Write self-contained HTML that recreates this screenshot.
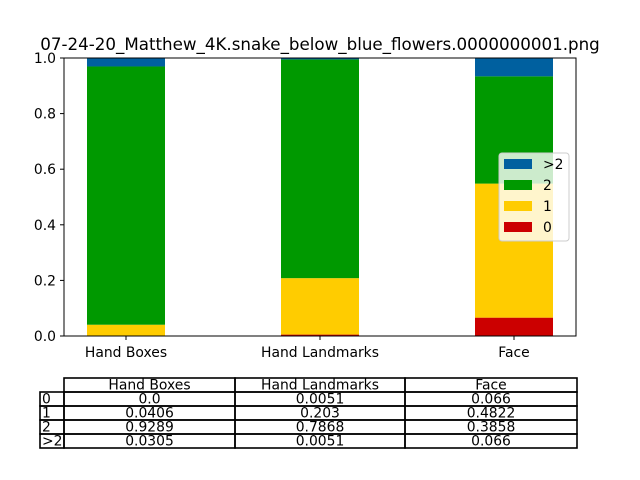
<!DOCTYPE html>
<html><head><meta charset="utf-8"><style>
body{margin:0;background:#fff;}
svg{display:block;font-family:"DejaVu Sans","Liberation Sans",sans-serif;}
</style></head><body>
<svg id="chart" width="640" height="480" xmlns="http://www.w3.org/2000/svg">
<text x="320" y="50" text-anchor="middle" font-size="16.7">07-24-20_Matthew_4K.snake_below_blue_flowers.0000000001.png</text>
<g id="bars"></g>
<rect x="64" y="58" width="512" height="278" fill="none" stroke="#000" stroke-width="1"/>
<g id="axes"></g>
<g id="legend"></g>
<g id="table"></g>
</svg>
<script>
const categories = ["Hand Boxes","Hand Landmarks","Face"];
const seriesNames = ["0","1","2",">2"];
const v0 = [0.0, 0.0051, 0.066];
const v1 = [0.0406, 0.203, 0.4822];
const v2 = [0.9289, 0.7868, 0.3858];
const v3 = [0.0305, 0.0051, 0.066];
const yTicks = [0, 0.2, 0.4, 0.6, 0.8, 1.0];
const yTickLabels = ["0.0","0.2","0.4","0.6","0.8","1.0"];
const colors = ["#cc0000","#ffcc00","#009900","#00609f"];
const NS="http://www.w3.org/2000/svg";
const series=[v0,v1,v2,v3];
const X=i=>126+i*194;
const Y=v=>336-v*278;
const bw=78;
const FS=13.9;
function mk(tag,attrs,parent){const e=document.createElementNS(NS,tag);for(const k in attrs)e.setAttribute(k,attrs[k]);parent.appendChild(e);return e;}
const bars=document.getElementById('bars');
categories.forEach((c,i)=>{let base=0;series.forEach((s,j)=>{const top=base+s[i];
const r=mk('rect',{x:X(i)-bw/2,y:Y(top),width:bw,height:Y(base)-Y(top),fill:colors[j]},bars);


base=top;});});
const axes=document.getElementById('axes');
yTicks.forEach((t,k)=>{mk('line',{x1:60,x2:64,y1:Y(t),y2:Y(t),stroke:'#000'},axes);
const tx=mk('text',{x:56,y:Y(t)+5,'text-anchor':'end','font-size':FS},axes);tx.textContent=yTickLabels[k];

});
categories.forEach((c,i)=>{mk('line',{x1:X(i),x2:X(i),y1:336,y2:340,stroke:'#000'},axes);
const tx=mk('text',{x:X(i),y:357,'text-anchor':'middle','font-size':FS},axes);tx.textContent=c;

});
const lg=document.getElementById('legend');
const lb=mk('rect',{x:499,y:153,width:70,height:88,rx:3,fill:'rgba(255,255,255,0.8)',stroke:'#ccc'},lg);


[3,2,1,0].forEach((j,k)=>{const y=164+k*21;
mk('rect',{x:504,y:y-5,width:28,height:10,fill:colors[j]},lg);
const tx=mk('text',{x:543,y:y+5,'font-size':FS},lg);tx.textContent=seriesNames[j];

});
const tb=document.getElementById('table');
const cols=[40,64,235,405,577];const rows=[378,392,406,420,434,448];
function cell(x1,x2,y1,y2,txt,anchor){mk('rect',{x:x1,y:y1,width:x2-x1,height:y2-y1,fill:'none',stroke:'#000','stroke-width':1.6},tb);
const tx=mk('text',{x:anchor==='start'?x1+2:(x1+x2)/2,y:y2-2.5,'text-anchor':anchor||'middle','font-size':FS},tb);tx.textContent=txt;

}
categories.forEach((c,i)=>cell(cols[i+1],cols[i+2],rows[0],rows[1],c));
series.forEach((s,j)=>{cell(cols[0],cols[1],rows[j+1],rows[j+2],seriesNames[j],'start');
s.forEach((v,i)=>cell(cols[i+1],cols[i+2],rows[j+1],rows[j+2],v===0?"0.0":String(v)));});
</script>
</body></html>
